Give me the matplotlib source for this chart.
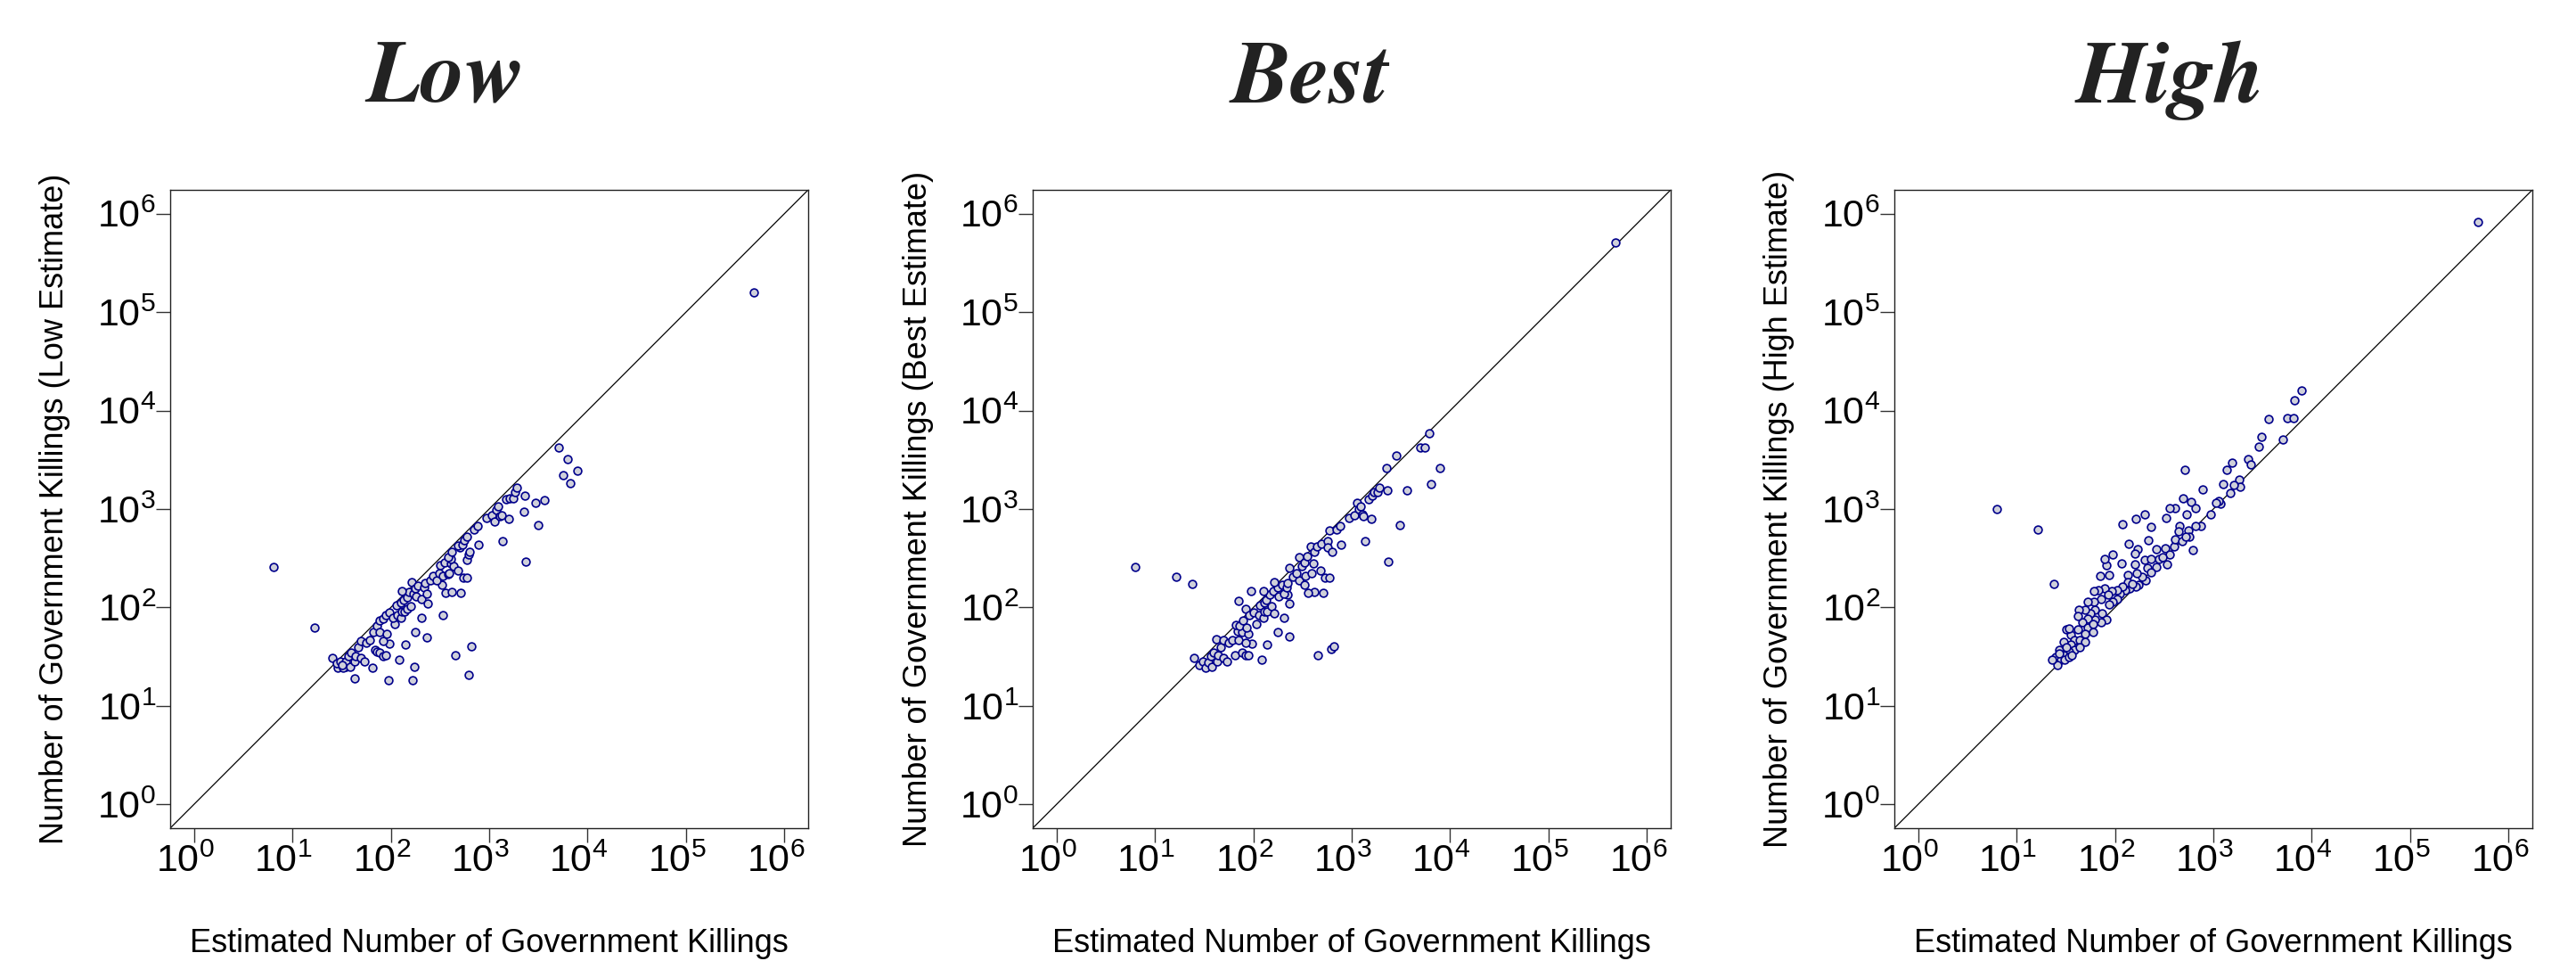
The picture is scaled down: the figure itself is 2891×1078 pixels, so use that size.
import numpy as np
import matplotlib
matplotlib.use("Agg")
import matplotlib.pyplot as plt
from matplotlib.ticker import FixedLocator, NullLocator, FuncFormatter
from matplotlib.transforms import ScaledTranslation

plt.rcParams['font.family'] = ['Liberation Sans', 'DejaVu Sans']
plt.rcParams['mathtext.default'] = 'regular'

# values, stored as log10(count)
low_x_log = [5.69, 0.81, 1.23, 3.71, 3.80, 3.75, 3.90, 3.82, 1.41, 1.46,
             1.54, 1.45, 1.49, 1.52, 1.54, 1.51, 1.59, 1.63, 1.57, 1.60,
             1.64, 1.67, 1.70, 1.73, 1.70, 1.75, 1.79, 1.81, 1.63, 1.84,
             1.86, 1.89, 1.92, 1.95, 1.99, 1.92, 1.82, 1.86, 1.89, 1.89,
             1.92, 1.96, 1.95, 1.99, 2.04, 2.02, 2.07, 2.10, 2.06, 2.10,
             2.13, 2.11, 2.14, 2.17, 2.20, 2.17, 2.19, 2.11, 2.21, 2.23,
             2.25, 2.26, 2.28, 2.31, 2.34, 2.35, 2.37, 2.38, 2.31, 2.25,
             2.15, 2.09, 1.98, 2.22, 2.24, 2.37, 2.53, 2.52, 2.56, 2.62,
             2.71, 2.40, 2.43, 2.47, 2.49, 2.50, 2.53, 2.55, 2.58, 2.59,
             2.61, 2.64, 2.61, 2.68, 2.58, 2.62, 2.70, 2.68, 2.73, 2.75,
             2.77, 2.77, 2.79, 2.80, 2.74, 2.77, 2.89, 2.85, 2.88, 2.97,
             3.03, 3.05, 3.07, 3.09, 3.11, 3.13, 3.20, 3.14, 3.17, 3.21,
             3.24, 3.26, 3.28, 3.36, 3.35, 3.47, 3.56, 3.50, 3.37, 2.82,
             2.66, 2.79]
low_y_log = [5.20, 2.41, 1.80, 3.62, 3.51, 3.34, 3.39, 3.26, 1.49, 1.39,
             1.40, 1.43, 1.45, 1.39, 1.45, 1.42, 1.40, 1.45, 1.51, 1.54,
             1.51, 1.60, 1.49, 1.45, 1.66, 1.64, 1.67, 1.39, 1.28, 1.57,
             1.55, 1.54, 1.51, 1.52, 1.63, 1.66, 1.75, 1.81, 1.75, 1.87,
             1.89, 1.73, 1.92, 1.95, 1.83, 1.90, 1.92, 1.90, 2.02, 2.05,
             2.08, 1.96, 1.96, 1.99, 2.01, 2.10, 2.16, 2.17, 2.26, 2.14,
             2.19, 2.11, 2.22, 2.09, 2.20, 2.25, 2.14, 2.04, 1.90, 1.75,
             1.62, 1.47, 1.26, 1.26, 1.40, 1.70, 1.92, 2.23, 2.15, 2.16,
             2.15, 2.28, 2.32, 2.28, 2.35, 2.43, 2.32, 2.46, 2.34, 2.35,
             2.45, 2.42, 2.49, 2.38, 2.51, 2.57, 2.61, 2.63, 2.64, 2.68,
             2.72, 2.48, 2.54, 2.57, 2.30, 2.30, 2.64, 2.79, 2.83, 2.91,
             2.94, 2.87, 2.99, 3.03, 2.93, 2.94, 2.90, 2.67, 3.10, 3.11,
             3.11, 3.17, 3.22, 3.14, 2.97, 3.06, 3.09, 2.84, 2.47, 1.61,
             1.52, 1.32]

best_x_log = [5.68, 0.80, 1.22, 1.38, 3.79, 3.70, 3.74, 3.45, 3.35, 3.90,
              3.81, 1.40, 1.45, 1.49, 1.52, 1.54, 1.58, 1.63, 1.57, 1.60,
              1.64, 1.67, 1.70, 1.73, 1.62, 1.70, 1.75, 1.79, 1.81, 1.85,
              1.89, 1.92, 1.95, 1.99, 1.92, 1.84, 1.89, 1.95, 1.82, 1.86,
              1.90, 1.93, 1.92, 1.96, 2.00, 2.03, 2.06, 2.10, 2.07, 2.11,
              2.13, 2.11, 2.14, 2.19, 2.21, 2.17, 2.20, 2.10, 1.98, 1.85,
              2.09, 2.25, 2.14, 2.31, 2.37, 2.37, 2.35, 2.25, 2.21, 2.26,
              2.29, 2.31, 2.34, 2.37, 2.35, 2.40, 2.47, 2.44, 2.47, 2.49,
              2.52, 2.52, 2.53, 2.55, 2.58, 2.59, 2.61, 2.62, 2.65, 2.68,
              2.69, 2.71, 2.62, 2.56, 2.73, 2.77, 2.76, 2.77, 2.76, 2.80,
              2.85, 2.88, 2.89, 2.97, 3.03, 3.05, 3.07, 3.09, 3.11, 3.12,
              3.20, 3.14, 3.17, 3.21, 3.23, 3.26, 3.28, 3.36, 3.56, 3.49,
              3.37, 2.66, 2.79, 2.82]
best_y_log = [5.71, 2.41, 2.31, 2.24, 3.77, 3.62, 3.62, 3.54, 3.42, 3.42,
              3.25, 1.49, 1.42, 1.45, 1.39, 1.44, 1.40, 1.45, 1.51, 1.54,
              1.52, 1.60, 1.49, 1.45, 1.68, 1.67, 1.64, 1.67, 1.52, 1.67,
              1.54, 1.52, 1.52, 1.63, 1.64, 1.76, 1.75, 1.73, 1.82, 1.81,
              1.87, 1.80, 1.99, 1.92, 1.95, 1.83, 1.92, 1.90, 2.02, 2.05,
              2.08, 1.96, 1.96, 2.01, 1.94, 2.13, 2.17, 2.17, 2.17, 2.07,
              1.47, 1.75, 1.62, 1.90, 1.71, 2.04, 2.13, 2.20, 2.26, 2.11,
              2.23, 2.14, 2.20, 2.40, 2.25, 2.31, 2.28, 2.35, 2.51, 2.42,
              2.23, 2.46, 2.32, 2.52, 2.62, 2.35, 2.45, 2.57, 2.62, 2.38,
              2.65, 2.15, 2.16, 2.15, 2.30, 2.30, 2.67, 2.78, 2.61, 2.57,
              2.79, 2.83, 2.64, 2.91, 2.94, 3.06, 3.00, 3.03, 2.95, 2.93,
              2.90, 2.67, 3.10, 3.14, 3.17, 3.17, 3.22, 3.19, 3.19, 2.84,
              2.47, 1.52, 1.58, 1.61]

high_x_log = [5.69, 0.80, 1.22, 1.38, 3.90, 3.82, 3.75, 3.81, 3.56, 3.49,
              3.46, 3.71, 3.35, 3.38, 3.19, 3.14, 2.71, 3.10, 2.89, 3.26,
              3.27, 3.21, 3.17, 3.07, 3.05, 3.03, 2.97, 2.87, 2.82, 2.79,
              2.69, 2.77, 2.82, 2.73, 2.61, 2.56, 2.52, 2.66, 2.65, 2.75,
              2.76, 2.08, 2.21, 2.30, 2.37, 2.14, 2.34, 2.23, 2.20, 2.07,
              1.98, 1.91, 1.90, 1.85, 1.94, 2.13, 2.20, 2.30, 2.33, 2.37,
              2.42, 2.51, 2.56, 2.60, 2.61, 2.68, 2.72, 2.45, 2.48, 2.53,
              2.42, 2.37, 2.31, 2.28, 2.24, 2.21, 2.15, 2.10, 2.05, 2.02,
              1.98, 1.94, 2.13, 2.18, 2.22, 2.08, 2.02, 1.97, 1.90, 1.83,
              1.79, 1.86, 1.93, 1.79, 1.72, 1.80, 1.87, 1.91, 1.86, 1.80,
              1.75, 1.70, 1.72, 1.67, 1.63, 1.62, 1.72, 1.78, 1.70, 1.62,
              1.55, 1.59, 1.51, 1.53, 1.64, 1.70, 1.78, 1.55, 1.48, 1.59,
              1.64, 1.53, 1.48, 1.43, 1.51, 1.40, 1.45, 1.42, 1.49, 1.36,
              1.53, 1.56, 1.43]
high_y_log = [5.91, 3.00, 2.79, 2.24, 4.20, 4.10, 3.92, 3.92, 3.91, 3.73,
              3.63, 3.71, 3.51, 3.45, 3.47, 3.40, 3.40, 3.25, 3.20, 3.30,
              3.23, 3.24, 3.16, 3.05, 3.08, 3.06, 2.95, 2.83, 2.83, 2.58,
              3.11, 3.07, 3.01, 2.95, 3.01, 3.01, 2.91, 2.83, 2.77, 2.78,
              2.72, 2.85, 2.90, 2.95, 2.82, 2.65, 2.68, 2.59, 2.55, 2.45,
              2.54, 2.43, 2.49, 2.32, 2.33, 2.33, 2.44, 2.48, 2.40, 2.49,
              2.59, 2.60, 2.54, 2.62, 2.69, 2.67, 2.72, 2.49, 2.51, 2.44,
              2.41, 2.36, 2.28, 2.31, 2.23, 2.21, 2.19, 2.18, 2.14, 2.09,
              2.06, 2.03, 2.26, 2.24, 2.35, 2.21, 2.18, 2.17, 2.19, 2.18,
              2.17, 2.09, 2.13, 2.06, 2.06, 1.98, 1.94, 1.88, 1.85, 1.88,
              1.94, 1.98, 1.89, 1.85, 1.98, 1.91, 1.80, 1.83, 1.73, 1.78,
              1.72, 1.67, 1.78, 1.79, 1.67, 1.65, 1.75, 1.62, 1.65, 1.57,
              1.60, 1.55, 1.52, 1.57, 1.60, 1.50, 1.47, 1.42, 1.47, 1.47,
              1.50, 1.52, 1.53]

titles = ['Low', 'Best', 'High']
ylabels = ['Number of Government Killings (Low Estimate)',
           'Number of Government Killings (Best Estimate)',
           'Number of Government Killings (High Estimate)']
xlabel = 'Estimated Number of Government Killings'
decades = [0, 1, 2, 3, 4, 5, 6]

panels = [(low_x_log, low_y_log), (best_x_log, best_y_log), (high_x_log, high_y_log)]

W, H = 2891, 1078
fig = plt.figure(figsize=(W / 100, H / 100), dpi=100)

lefts = [191, 1159, 2126]
title_x = [500, 1470, 2436]
box = 716
bottom_px = 929

lo, hi = 10 ** -0.24, 10 ** 6.24

for i, (xs, ys) in enumerate(panels):
    ax = fig.add_axes([lefts[i] / W, 1 - bottom_px / H, box / W, box / H])
    ax.set_xscale('log')
    ax.set_yscale('log')
    ax.set_xlim(lo, hi)
    ax.set_ylim(lo, hi)

    # 45 degree reference line
    ax.axline((1, 1), (1e6, 1e6), color='black', lw=0.9, zorder=2)
    ax.scatter(10 ** np.array(xs), 10 ** np.array(ys), s=40,
               facecolor='#CFD0DA', edgecolor='#00008B', linewidth=1.2, zorder=3)

    ticks = [10.0 ** d for d in decades]
    fmt = FuncFormatter(lambda v, p: r'$10^{%d}$' % round(np.log10(v)))
    for axis in (ax.xaxis, ax.yaxis):
        axis.set_major_locator(FixedLocator(ticks))
        axis.set_minor_locator(NullLocator())
        axis.set_major_formatter(fmt)

    ax.tick_params(axis='both', which='major', direction='out', length=11.5,
                   width=1.0, labelsize=31, color='#333333')
    ax.tick_params(axis='x', pad=1)
    ax.tick_params(axis='y', pad=0)
    shift = ScaledTranslation(-10 / 100, 0, fig.dpi_scale_trans)
    for lbl in ax.get_xticklabels():
        lbl.set_transform(lbl.get_transform() + shift)
    for s in ax.spines.values():
        s.set_linewidth(1.0)
        s.set_color('#222222')

    ax.text(0.5, -(1068 - bottom_px) / box, xlabel, transform=ax.transAxes,
            ha='center', va='baseline', fontsize=26)
    ax.text((62 - lefts[0]) / box, 0.5, ylabels[i], transform=ax.transAxes,
            ha='center', va='center', rotation=90, fontsize=26)

    fig.text(title_x[i] / W, 1 - 115 / H, titles[i], ha='center', va='baseline',
             fontsize=72, fontfamily='STIXGeneral', fontstyle='italic',
             fontweight='bold', color='#222222')

fig.savefig('out.png', dpi=100)
